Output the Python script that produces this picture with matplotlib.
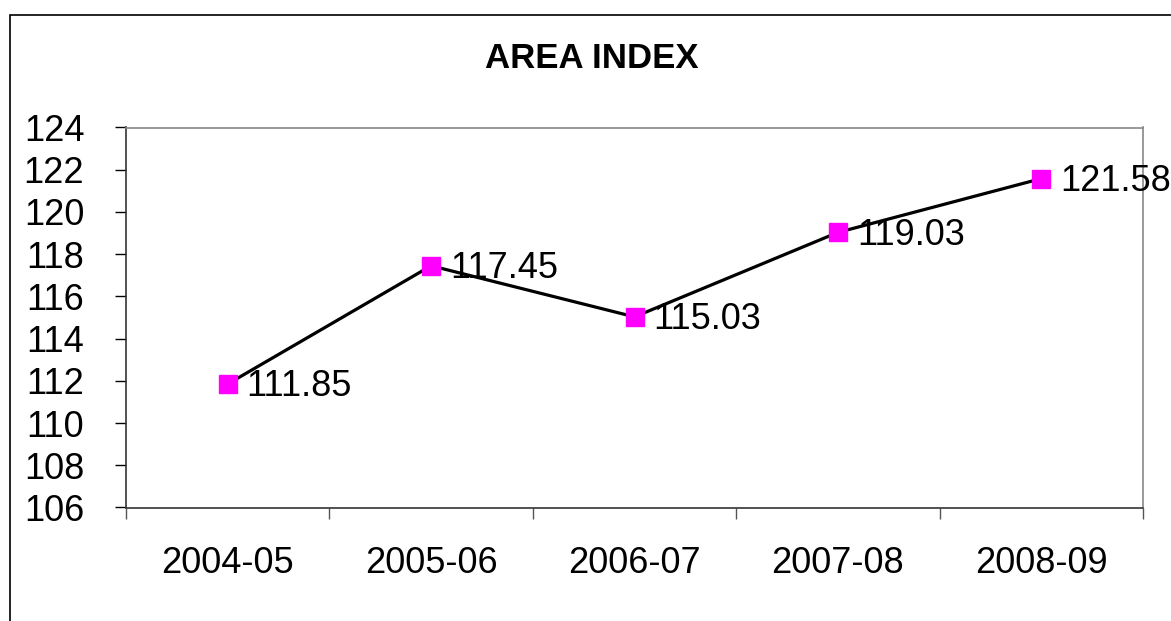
import matplotlib.pyplot as plt
from matplotlib.patches import Rectangle

# chart data
years = ['2004-05', '2005-06', '2006-07', '2007-08', '2008-09']
area_index = [111.85, 117.45, 115.03, 119.03, 121.58]

plt.rcParams['font.family'] = ['Liberation Sans', 'DejaVu Sans']

W, H = 1171, 621
fig = plt.figure(figsize=(W / 100, H / 100), dpi=100)

# outer chart border (runs off the right / bottom edge like the reference)
fig.patches.append(Rectangle((9.5 / W, -0.05), 1.2, 1 - 14.7 / H + 0.05,
                             transform=fig.transFigure, fill=False,
                             edgecolor='black', lw=1.2))

ax = fig.add_axes([126 / W, 1 - 507.5 / H, (1143 - 126) / W, (507.5 - 127.5) / H])

x = list(range(len(years)))
ax.plot(x, area_index, color='black', lw=2.3, marker='s', ms=13,
        mfc='#ff00ff', mec='#ff00ff', zorder=3, clip_on=False)

for xi, v in zip(x, area_index):
    ax.annotate(f'{v:.2f}', (xi, v), xytext=(19, 1), textcoords='offset pixels',
                ha='left', va='center_baseline', fontsize=26, annotation_clip=False)

ax.set_xlim(-0.5, len(years) - 0.5)
ax.set_ylim(106, 124)
ax.set_yticks(range(106, 125, 2))

# category ticks sit between categories, labels at the centres
ax.set_xticks([i - 0.5 for i in range(len(years) + 1)])
ax.set_xticklabels([])
ax.set_xticks(x, minor=True)
ax.set_xticklabels(years, minor=True)
ax.tick_params(axis='x', which='major', direction='out', length=8, width=1, color='#555555')
ax.tick_params(axis='x', which='minor', length=0, pad=28, labelsize=26)
ax.tick_params(axis='y', direction='out', length=8, width=1, pad=22, labelsize=26)

for s in ['left', 'bottom']:
    ax.spines[s].set_color('#333333')
    ax.spines[s].set_linewidth(1.2)
for s in ['top', 'right']:
    ax.spines[s].set_color('#888888')
    ax.spines[s].set_linewidth(1.2)

fig.text(592 / W, 1 - 58 / H, 'AREA INDEX', ha='center', va='center',
         fontsize=25, fontweight='bold')

fig.savefig('out.png', dpi=100)
